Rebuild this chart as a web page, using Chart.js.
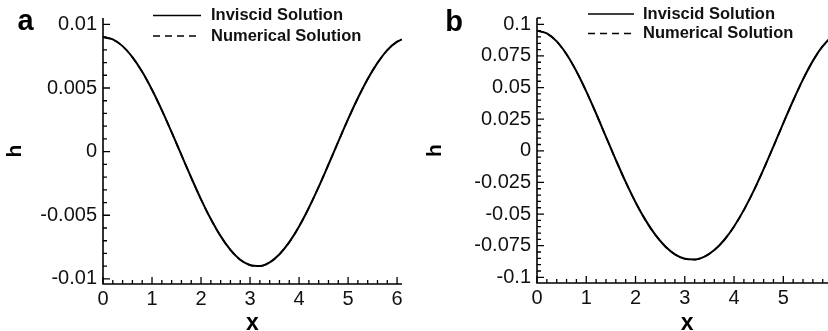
<!DOCTYPE html>
<html>
<head>
<meta charset="utf-8">
<script src="https://cdn.jsdelivr.net/npm/chart.js@4/dist/chart.umd.min.js"></script>
<style>
  html, body { margin: 0; padding: 0; background: #fff; }
  body { width: 828px; height: 331px; position: relative; overflow: hidden; }
  canvas { position: absolute; top: 0; }
  #chartA { left: 0; }
  #chartB { left: 420px; }
</style>
</head>
<body>
<canvas id="chartA" width="420" height="331"></canvas>
<canvas id="chartB" width="430" height="331"></canvas>
<script>
'use strict';

// 데이터
const xA = [0, 0.2, 0.4, 0.6, 0.8, 1.0, 1.2, 1.4, 1.6, 1.8, 2.0, 2.2, 2.4, 2.6, 2.8, 3.0,
  3.2, 3.4, 3.6, 3.8, 4.0, 4.2, 4.4, 4.6, 4.8, 5.0, 5.2, 5.4, 5.6, 5.8, 6.0, 6.1];
const inviscidA = [0.0090, 0.00882, 0.00829, 0.00743, 0.00627, 0.00486, 0.00326, 0.00153,
  -0.00026, -0.00204, -0.00375, -0.00530, -0.00664, -0.00772, -0.00850, -0.00891,
  -0.00899, -0.00870, -0.00806, -0.00711, -0.00588, -0.00441, -0.00277, -0.00101,
  0.00079, 0.00255, 0.00421, 0.00571, 0.00697, 0.00798, 0.00864, 0.00882];
const numericalA = [0.0090, 0.00881, 0.00828, 0.00742, 0.00626, 0.00485, 0.00325, 0.00152,
  -0.00027, -0.00205, -0.00376, -0.00531, -0.00665, -0.00773, -0.00851, -0.00892,
  -0.00900, -0.00871, -0.00807, -0.00712, -0.00589, -0.00442, -0.00278, -0.00102,
  0.00078, 0.00254, 0.00420, 0.00570, 0.00696, 0.00797, 0.00863, 0.00881];

const xB = xA;
const inviscidB = [0.0950, 0.0928, 0.0865, 0.0763, 0.0629, 0.0470, 0.0295, 0.0111,
  -0.0071, -0.0246, -0.0406, -0.0546, -0.0663, -0.0754, -0.0818, -0.0853,
  -0.0859, -0.0836, -0.0784, -0.0705, -0.0598, -0.0467, -0.0315, -0.0145,
  0.0035, 0.0219, 0.0398, 0.0565, 0.0711, 0.0827, 0.0907, 0.0932];
const numericalB = [0.0949, 0.0927, 0.0864, 0.0762, 0.0628, 0.0469, 0.0294, 0.0110,
  -0.0072, -0.0247, -0.0407, -0.0547, -0.0664, -0.0755, -0.0819, -0.0854,
  -0.0860, -0.0837, -0.0785, -0.0706, -0.0599, -0.0468, -0.0316, -0.0146,
  0.0034, 0.0218, 0.0397, 0.0564, 0.0710, 0.0826, 0.0906, 0.0931];

const xTicks = [0, 1, 2, 3, 4, 5, 6];
const yTicksA = [-0.01, -0.005, 0, 0.005, 0.01];
const yTicksB = [-0.1, -0.075, -0.05, -0.025, 0, 0.025, 0.05, 0.075, 0.1];

const labelInviscid = 'Inviscid Solution';
const labelNumerical = 'Numerical Solution';

const FONT = "'Liberation Sans', Arial, Helvetica, sans-serif";
Chart.defaults.font.family = FONT;
Chart.defaults.color = '#111';

// 축선, 안쪽 눈금, 범례, 패널 글자
const axisDecor = {
  id: 'axisDecor',
  afterDraw(chart, args, opts) {
    const { ctx, chartArea: a, scales } = chart;
    const xs = scales.x, ys = scales.y;
    ctx.save();
    ctx.strokeStyle = '#000';
    ctx.lineCap = 'butt';

    // 눈금
    ctx.lineWidth = 1.3;
    ctx.beginPath();
    const tickRun = (scale, major, minor, cb) => {
      const n0 = Math.ceil(scale.min / minor - 1e-9);
      const n1 = Math.floor(scale.max / minor + 1e-9);
      for (let i = n0; i <= n1; i++) {
        const v = i * minor;
        const r = v / major;
        cb(scale.getPixelForValue(v), Math.abs(r - Math.round(r)) < 1e-6);
      }
    };
    tickRun(xs, opts.xMajor, opts.xMinor, (px, isMajor) => {
      ctx.moveTo(px, a.bottom);
      ctx.lineTo(px, a.bottom - (isMajor ? 7 : 4));
    });
    tickRun(ys, opts.yMajor, opts.yMinor, (py, isMajor) => {
      ctx.moveTo(a.left, py);
      ctx.lineTo(a.left + (isMajor ? 7 : 4), py);
    });
    ctx.stroke();

    // 축선
    ctx.lineWidth = 1.6;
    ctx.beginPath();
    ctx.moveTo(a.left, a.top);
    ctx.lineTo(a.left, a.bottom);
    ctx.lineTo(a.right, a.bottom);
    ctx.stroke();

    // 범례
    const lg = opts.legend;
    ctx.font = 'bold 16.5px ' + FONT;
    ctx.textBaseline = 'middle';
    ctx.textAlign = 'left';
    ctx.fillStyle = '#111';
    chart.data.datasets.forEach((ds, i) => {
      const y = lg.rows[i];
      ctx.lineWidth = 1.6;
      ctx.setLineDash(ds.borderDash || []);
      ctx.beginPath();
      ctx.moveTo(lg.x, y);
      ctx.lineTo(lg.x + lg.len, y);
      ctx.stroke();
      ctx.setLineDash([]);
      ctx.fillText(ds.label, lg.textX, y);
    });

    // 패널 글자
    ctx.font = 'bold 29px ' + FONT;
    ctx.textAlign = 'center';
    ctx.fillStyle = '#000';
    ctx.fillText(opts.letter.text, opts.letter.x, opts.letter.y);
    ctx.restore();
  }
};

function buildPanel(id, xs, inv, num, yTicks, yMin, yMax, xMax, layout, decor) {
  const ctx = document.getElementById(id).getContext('2d');
  return new Chart(ctx, {
    type: 'line',
    plugins: [axisDecor],
    data: {
      datasets: [
        {
          label: labelInviscid,
          data: xs.map((x, i) => ({ x, y: inv[i] })),
          borderColor: '#000',
          borderWidth: 2,
          pointRadius: 0,
          cubicInterpolationMode: 'monotone',
        },
        {
          label: labelNumerical,
          data: xs.map((x, i) => ({ x, y: num[i] })),
          borderColor: '#000',
          borderWidth: 1.6,
          borderDash: [7, 5],
          pointRadius: 0,
          cubicInterpolationMode: 'monotone',
        },
      ],
    },
    options: {
      responsive: false,
      animation: false,
      layout: { padding: layout.padding },
      plugins: {
        legend: { display: false },
        tooltip: { enabled: false },
        axisDecor: decor,
      },
      scales: {
        x: {
          type: 'linear',
          min: 0,
          max: xMax,
          afterBuildTicks: s => { s.ticks = xTicks.map(v => ({ value: v })); },
          afterFit: s => { s.height = layout.xHeight; },
          grid: { display: false, drawTicks: false, tickLength: 0 },
          border: { display: false },
          ticks: { color: '#111', font: { size: 20 }, padding: 3, maxRotation: 0, autoSkip: false },
          title: {
            display: true, text: 'x', color: '#000',
            font: { size: 23, weight: 'bold', lineHeight: 1 },
            padding: { top: 0, bottom: -4 },
          },
        },
        y: {
          type: 'linear',
          min: yMin,
          max: yMax,
          afterBuildTicks: s => { s.ticks = yTicks.map(v => ({ value: v })); },
          afterFit: s => { s.width = layout.yWidth; },
          grid: { display: false, drawTicks: false, tickLength: 0 },
          border: { display: false },
          ticks: { color: '#111', font: { size: 20 }, padding: 6, autoSkip: false, callback: v => String(v) },
          title: {
            display: true, text: 'h', color: '#000',
            font: { size: 21, weight: 'bold', lineHeight: 1 },
            padding: { top: 5, bottom: 0 },
          },
        },
      },
    },
  });
}

buildPanel('chartA', xA, inviscidA, numericalA, yTicksA, -0.0104, 0.0105, 6.1,
  { padding: { top: 13, right: 18, left: 0, bottom: 0 }, yWidth: 103, xHeight: 47 },
  {
    xMajor: 1, xMinor: 0.2, yMajor: 0.005, yMinor: 0.001,
    legend: { x: 153, len: 48, textX: 211, rows: [15.5, 36] },
    letter: { text: 'a', x: 25.5, y: 21.5 },
  });

buildPanel('chartB', xB, inviscidB, numericalB, yTicksB, -0.1045, 0.105, 6.1,
  { padding: { top: 12, right: 12.5, left: 0, bottom: 0 }, yWidth: 117, xHeight: 48 },
  {
    xMajor: 1, xMinor: 0.2, yMajor: 0.025, yMinor: 0.005,
    legend: { x: 168, len: 46, textX: 223, rows: [14, 33.5] },
    letter: { text: 'b', x: 34, y: 22.5 },
  });
</script>
</body>
</html>
